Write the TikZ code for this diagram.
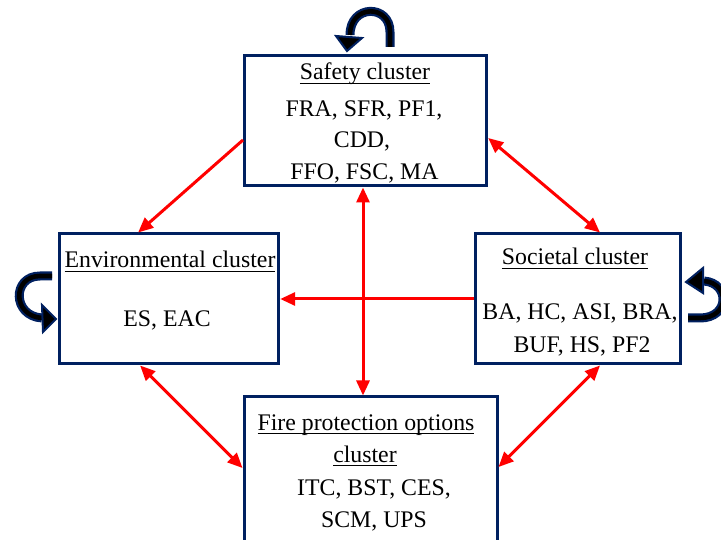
\documentclass[tikz,border=0pt]{standalone}
\usepackage{fontspec}
\setmainfont{Liberation Serif}
\usetikzlibrary{arrows.meta}
\definecolor{boxnavy}{HTML}{002060}
\definecolor{linkred}{HTML}{FF0000}
% word-processor style underline at a fixed depth
\newcommand\clusterul[1]{\setbox0\hbox{#1}\rlap{\rule[-4.3pt]{\wd0}{1.6pt}}\box0}
\begin{document}
\begin{tikzpicture}[x=1pt,y=1pt,
  cluster/.style={draw=boxnavy, line width=3pt, inner sep=0pt},
  txt/.style={anchor=base, inner sep=0pt, font=\fontsize{23.8}{28}\selectfont},
  redlink/.style={draw=linkred, line width=3pt, -{Triangle[length=15pt,width=13pt]}},
  redboth/.style={draw=linkred, line width=3pt, {Triangle[length=15pt,width=13pt]}-{Triangle[length=15pt,width=13pt]}},
  selfarc/.style={draw=boxnavy, line width=2.2pt, double=black, double distance=4.6pt},
  selfhead/.style={fill=black, draw=boxnavy, line width=2pt, line join=miter}
]
\useasboundingbox (0,0) rectangle (721,539);
\clip (0,0) rectangle (721,539);

% cluster boxes
\node[cluster, minimum width=242.2pt, minimum height=130pt] (safety) at (365.6,418) {};
\node[cluster, minimum width=219.2pt, minimum height=130pt] (env) at (169.1,240) {};
\node[cluster, minimum width=205pt, minimum height=130pt] (soc) at (577.5,240) {};
\node[cluster, minimum width=253pt, minimum height=183pt] (fire) at (370.5,50.5) {};

% influence links between clusters
\draw[redlink] ([yshift=-19pt]safety.west) -- ([xshift=-31pt]env.north);
\draw[redboth] ([yshift=-17pt]safety.east) -- ([xshift=22.5pt]soc.north);
\draw[redboth] ([xshift=-2.6pt]safety.south) -- ([xshift=-7.5pt]fire.north);
\draw[redlink] (soc.west) -- (env.east);
\draw[redboth] ([xshift=-29pt]env.south) -- ([yshift=20.5pt]fire.west);
\draw[redboth] ([xshift=22.5pt]soc.south) -- ([yshift=21.5pt]fire.east);

% self-feedback loops
\coordinate (topA) at (390,492);
\coordinate (topB) at (350,504);
\draw[selfarc] (topA) -- (390,507) .. controls (390,535) and (350,535) .. (topB);
\draw[selfhead] (336,503) -- (362,501) -- (347,488) -- cycle;

\coordinate (leftA) at (52,263);
\coordinate (leftB) at (42,221);
\draw[selfarc] (leftA) -- (40,263) .. controls (12,263) and (12,223) .. (leftB);
\draw[selfhead] (42,234) -- (56,220) -- (43,207) -- cycle;

\coordinate (rightA) at (688,221);
\coordinate (rightB) at (704,258);
\draw[selfarc] (rightA) -- (700,221) .. controls (730,221) and (730,256) .. (rightB);
\draw[selfhead] (703,271) -- (686,257) -- (703,246) -- cycle;

% cluster texts
\node[txt] (tsafety) at (365,459) {\clusterul{Safety cluster}};
\node[txt] (s1) at (364,422) {FRA, SFR, PF1,};
\node[txt] (s2) at (362,391) {CDD,};
\node[txt] (s3) at (364.5,359) {FFO, FSC, MA};

\node[txt] (tenv) at (170,271) {\clusterul{Environmental cluster}};
\node[txt] (e1) at (167,212) {ES, EAC};

\node[txt] (tsoc) at (575,274) {\clusterul{Societal cluster}};
\node[txt] (c1) at (580,219) {BA, HC, ASI, BRA,};
\node[txt] (c2) at (582,186) {BUF, HS, PF2};

\node[txt] (tfire) at (366,109) {\clusterul{Fire protection options}};
\node[txt] (tfire2) at (365,77) {\clusterul{cluster}};
\node[txt] (f1) at (374,44) {ITC, BST, CES,};
\node[txt] (f2) at (374,12) {SCM, UPS};
\end{tikzpicture}
\end{document}
